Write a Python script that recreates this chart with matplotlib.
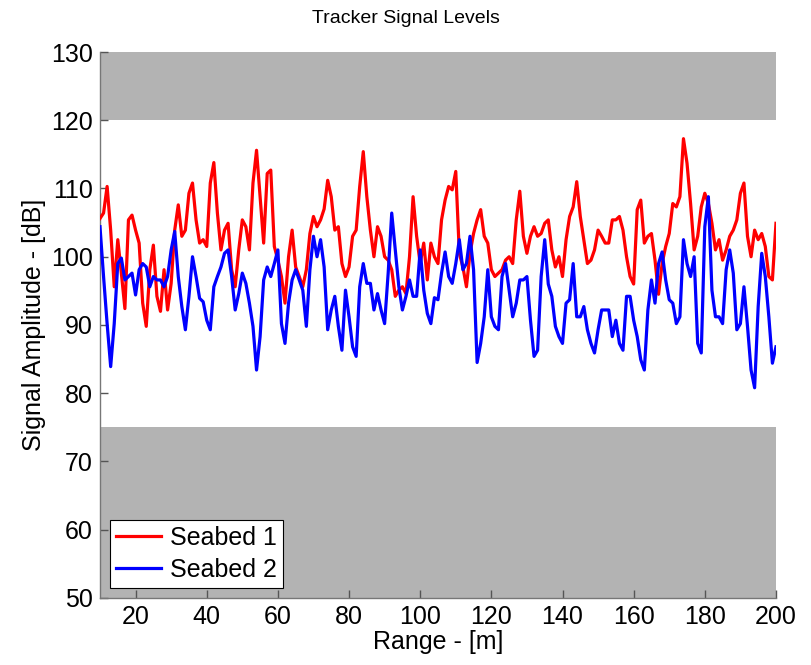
import numpy as np
import matplotlib.pyplot as plt

plt.rcParams['font.family'] = ['Liberation Sans', 'DejaVu Sans']

# range samples, 1 m spacing
range_m = np.arange(10, 201)

seabed_1 = [
    105.6, 106.4, 110.3, 103.9, 95.6, 102.5, 97.6, 92.4, 105.4, 106.1,
    103.9, 102.0, 93.2, 89.8, 98.1, 101.7, 94.2, 92.0, 98.1, 92.2,
    96.1, 103.9, 107.6, 103.0, 103.9, 109.3, 110.8, 105.4, 102.0, 102.5,
    101.5, 110.8, 113.8, 106.4, 101.0, 103.9, 104.9, 98.1, 95.6, 101.0,
    105.4, 104.4, 101.0, 110.8, 115.6, 108.8, 102.0, 112.2, 112.7, 101.5,
    99.5, 97.1, 93.2, 100.0, 103.9, 98.5, 97.1, 95.6, 98.1, 103.4,
    105.9, 104.4, 105.4, 107.0, 111.2, 108.8, 103.9, 104.4, 99.0, 97.1,
    98.5, 103.0, 103.9, 110.3, 115.4, 108.8, 103.9, 100.0, 104.4, 103.0,
    100.0, 99.5, 98.1, 94.2, 95.1, 95.6, 94.6, 100.0, 108.8, 103.0,
    99.0, 102.0, 96.6, 102.0, 100.0, 99.0, 105.4, 108.3, 110.3, 109.8,
    112.5, 100.5, 98.5, 95.6, 100.5, 103.4, 105.4, 106.9, 103.0, 102.0,
    98.1, 97.1, 97.6, 98.1, 99.5, 100.0, 99.0, 105.4, 109.6, 103.0,
    100.5, 103.0, 104.4, 103.0, 103.4, 104.9, 105.4, 101.0, 98.5, 100.0,
    97.1, 102.5, 105.9, 107.3, 111.0, 105.9, 102.5, 99.0, 99.5, 101.0,
    103.9, 103.0, 102.0, 102.0, 105.4, 105.4, 105.9, 103.9, 100.0, 97.1,
    96.0, 106.9, 108.3, 102.0, 103.0, 103.4, 99.5, 94.5, 99.0, 101.5,
    103.4, 107.8, 107.3, 108.8, 117.3, 113.7, 107.8, 101.0, 103.0, 107.3,
    109.3, 107.8, 104.9, 101.0, 102.5, 99.5, 101.0, 103.0, 103.9, 105.4,
    109.3, 110.8, 103.0, 100.0, 103.9, 102.5, 103.4, 101.5, 97.1, 96.6,
    104.9,
]

seabed_2 = [
    104.4, 97.1, 90.2, 83.9, 90.2, 99.0, 99.8, 96.6, 97.1, 97.6,
    94.4, 98.1, 99.0, 98.5, 95.6, 97.1, 96.6, 96.6, 95.6, 97.1,
    101.0, 103.7, 97.1, 92.7, 89.3, 94.2, 100.0, 97.1, 93.9, 93.4,
    90.7, 89.3, 95.6, 97.1, 98.5, 100.5, 101.0, 97.1, 92.2, 94.6,
    97.6, 96.1, 93.2, 89.8, 83.4, 88.3, 96.6, 98.5, 97.1, 99.0,
    101.0, 90.2, 87.3, 93.2, 96.6, 98.1, 96.6, 95.1, 89.8, 98.1,
    103.0, 100.0, 102.5, 98.5, 89.3, 92.2, 94.2, 89.8, 86.3, 95.1,
    91.2, 86.8, 85.4, 95.6, 99.0, 96.1, 96.1, 92.2, 94.6, 92.2,
    90.2, 97.6, 106.4, 101.0, 95.6, 92.2, 94.2, 96.6, 94.2, 94.2,
    101.0, 95.1, 91.7, 90.2, 94.0, 93.7, 97.6, 100.7, 97.1, 96.1,
    99.0, 102.5, 98.1, 99.0, 103.0, 98.1, 84.5, 87.3, 91.2, 98.1,
    91.2, 89.8, 89.3, 97.1, 99.0, 95.1, 91.2, 93.2, 96.6, 96.6,
    97.1, 90.7, 85.4, 86.3, 97.1, 102.5, 96.0, 94.2, 89.8, 88.3,
    87.3, 93.2, 93.7, 99.0, 91.2, 91.2, 92.7, 89.3, 87.3, 85.9,
    89.3, 92.2, 92.2, 92.2, 88.3, 90.7, 87.3, 86.3, 94.2, 94.2,
    90.7, 88.3, 84.9, 83.4, 92.2, 96.6, 93.2, 99.0, 100.7, 96.6,
    93.7, 93.2, 90.2, 91.2, 102.5, 99.0, 97.1, 100.0, 87.3, 85.9,
    104.4, 108.8, 95.1, 91.2, 91.2, 90.2, 98.1, 101.0, 97.6, 89.3,
    90.2, 95.6, 89.8, 83.4, 80.8, 92.7, 100.5, 97.1, 91.2, 84.4,
    86.8,
]

x_ticks = [20, 40, 60, 80, 100, 120, 140, 160, 180, 200]
y_ticks = [50, 60, 70, 80, 90, 100, 110, 120, 130]

fig = plt.figure(figsize=(8.11, 6.65), dpi=100)
ax = fig.add_axes([0.1233, 0.1008, 0.8335, 0.821])

# out-of-range bands
band = '#b3b3b3'
ax.axhspan(120, 130, color=band, lw=0, zorder=0)
ax.axhspan(50, 75, color=band, lw=0, zorder=0)

ax.plot(range_m, seabed_1, color='#ff0000', lw=2.3, label='Seabed 1', zorder=3)
ax.plot(range_m, seabed_2, color='#0000ff', lw=2.3, label='Seabed 2', zorder=3)

ax.set_xlim(10, 200)
ax.set_ylim(50, 130)
ax.set_xticks(x_ticks)
ax.set_yticks(y_ticks)

for side in ('top', 'right'):
    ax.spines[side].set_visible(False)
for side in ('left', 'bottom'):
    ax.spines[side].set_color('#777777')
    ax.spines[side].set_linewidth(1.0)
ax.tick_params(direction='in', length=6, width=1, color='#555555',
               labelsize=18, pad=5)

# title sits centred on the figure, not the axes
fig.text(0.5, 0.972, 'Tracker Signal Levels', fontsize=14,
         ha='center', va='center')
ax.set_xlabel('Range - [m]', fontsize=18, labelpad=1)
ax.set_ylabel('Signal Amplitude - [dB]', fontsize=18, labelpad=4)

leg = ax.legend(loc='lower left', fontsize=18, fancybox=False,
                framealpha=1, edgecolor='#000000', borderaxespad=0.4,
                handlelength=1.8, handletextpad=0.35, borderpad=0.25,
                labelspacing=0.3)
leg.get_frame().set_linewidth(0.8)

fig.savefig('out.png', dpi=100)
